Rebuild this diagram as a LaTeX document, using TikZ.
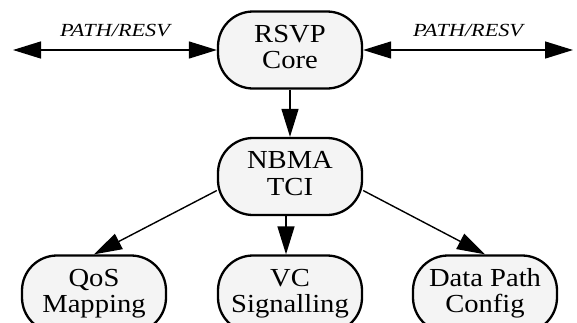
\documentclass[tikz,border=0pt]{standalone}
\usepackage{fontspec}
\setmainfont{Liberation Serif}
\usetikzlibrary{arrows.meta}
\definecolor{boxfill}{HTML}{F4F4F4}
% two-line label for a process box, set slightly wide
\newcommand\boxlabel[1]{\raisebox{-3.3pt}{\scalebox{1.1}[1]{\fontsize{26}{26.5}\selectfont\begin{tabular}{@{}c@{}}#1\end{tabular}}}}
\newcommand\msglabel[1]{\scalebox{1.2}[1]{\fontsize{18.5}{20}\selectfont\itshape #1}}
\begin{document}
\begin{tikzpicture}[x=1pt,y=-1pt,
  proc/.style={draw, line width=2.3pt, fill=boxfill, rounded corners=35pt,
    minimum width=144pt, minimum height=77pt, inner sep=0pt},
  link/.style={line width=1.4pt, -{Triangle[length=28pt,width=17pt]}},
  twoway/.style={line width=1.4pt,
    {Triangle[length=28pt,width=17pt]}-{Triangle[length=28pt,width=17pt]}}]
\useasboundingbox (0,0) rectangle (577,322);
\clip (0,0) rectangle (577,322);

% process boxes
\node[proc] (rsvp) at (290,50)    {\boxlabel{RSVP\\Core}};
\node[proc] (nbma) at (290,176.5) {\boxlabel{NBMA\\TCI}};
\node[proc] (qos)  at (94,294)    {\boxlabel{QoS\\Mapping}};
\node[proc] (vc)   at (290,294)   {\boxlabel{VC\\Signalling}};
\node[proc] (dpc)  at (485,294)   {\boxlabel{Data Path\\Config}};

% message exchange with the neighbours
\coordinate (westend) at (13,50);
\coordinate (eastend) at (573,50);
\draw[twoway] (westend) -- (rsvp.west)
  node[midway, yshift=19pt] (msgw) {\msglabel{PATH/RESV}};
\draw[twoway] (rsvp.east) -- (eastend)
  node[midway, yshift=19pt] (msge) {\msglabel{PATH/RESV}};

% control flow
\draw[link] (rsvp.south) -- (nbma.north);
\draw[link] ([xshift=-4pt]nbma.south) -- ([xshift=-4pt]vc.north);
\draw[link] ([yshift=-14pt]nbma.west) -- (qos.north);
\draw[link] ([yshift=-14pt]nbma.east) -- (dpc.north);
\end{tikzpicture}
\end{document}
